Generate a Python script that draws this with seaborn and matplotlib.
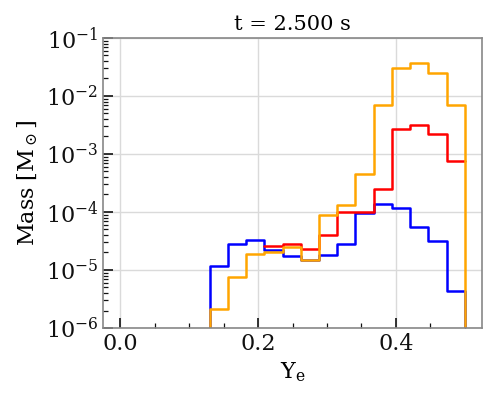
import numpy as np
import seaborn as sns
import matplotlib
matplotlib.use("Agg")
import matplotlib.pyplot as plt
from matplotlib.ticker import MultipleLocator, LogLocator

# bin edges in electron fraction Ye
ye_edges = [0.130, 0.156, 0.183, 0.209, 0.236, 0.262, 0.289, 0.315,
            0.341, 0.368, 0.394, 0.421, 0.447, 0.474, 0.500]

# ejected mass per bin [Msun]
blue_mass = [1.17e-5, 2.84e-5, 3.29e-5, 2.19e-5, 1.74e-5, 1.47e-5, 1.82e-5,
             2.84e-5, 9.5e-5, 1.39e-4, 1.19e-4, 5.6e-5, 3.1e-5, 4.4e-6]
# red only populated from the 4th bin on
red_mass = [2.59e-5, 2.77e-5, 2.27e-5, 4.07e-5, 1.0e-4, 1.0e-4,
            2.52e-4, 2.66e-3, 3.12e-3, 2.24e-3, 7.5e-4]
orange_mass = [2.1e-6, 7.6e-6, 1.87e-5, 2.04e-5, 2.5e-5, 1.48e-5, 8.9e-5,
               1.30e-4, 4.52e-4, 6.9e-3, 3.04e-2, 3.76e-2, 2.46e-2, 7.1e-3]

TITLE = "t = 2.500 s"

sns.set_style("whitegrid")
plt.rcParams["font.family"] = ["DejaVu Serif"]
plt.rcParams["mathtext.fontset"] = "dejavuserif"
plt.rcParams["text.color"] = "black"
plt.rcParams["axes.labelcolor"] = "black"

fig = plt.figure(figsize=(4.98, 3.99), dpi=100)
ax = fig.add_axes([0.207, 0.178, 0.761, 0.727])


def step_hist(edges, vals, color, closed):
    edges = list(edges)
    vals = list(vals)
    if closed:
        # empty bins on both sides so the outline drops to the axis
        w = edges[1] - edges[0]
        edges = [edges[0] - w] + edges + [edges[-1] + w]
        vals = [0.0] + vals + [0.0]
    e = np.array(edges)
    centers = list(0.5 * (e[:-1] + e[1:]))
    sns.histplot(x=centers, weights=vals, bins=edges, element="step",
                 fill=False, color=color, linewidth=1.8, ax=ax)


step_hist(ye_edges, blue_mass, "blue", True)
step_hist(ye_edges[3:], red_mass, "red", False)
step_hist(ye_edges, orange_mass, "orange", True)

ax.set_yscale("log")
ax.set_ylim(1e-6, 1e-1)
ax.set_xlim(-0.025, 0.525)
ax.xaxis.set_major_locator(MultipleLocator(0.2))
ax.xaxis.set_minor_locator(MultipleLocator(0.05))
ax.yaxis.set_major_locator(LogLocator(base=10, numticks=10))
ax.yaxis.set_minor_locator(LogLocator(base=10, subs=np.arange(2, 10), numticks=10))

ax.grid(True, which="major", color="#dadada", linewidth=1)
ax.tick_params(which="both", direction="in", left=True, bottom=True,
               top=False, right=False, colors="#111111", labelsize=16)
ax.tick_params(which="major", length=7, width=1.2)
ax.tick_params(which="minor", length=3.5, width=0.9)
for sp in ax.spines.values():
    sp.set_color("#888888")
    sp.set_linewidth(1.2)

ax.set_xlabel(r"$\mathrm{Y_e}$", fontsize=16)
ax.set_ylabel(r"Mass [$\mathrm{M_\odot}$]", fontsize=16)
ax.set_title(TITLE, fontsize=15)

fig.savefig("out.png", dpi=100)
